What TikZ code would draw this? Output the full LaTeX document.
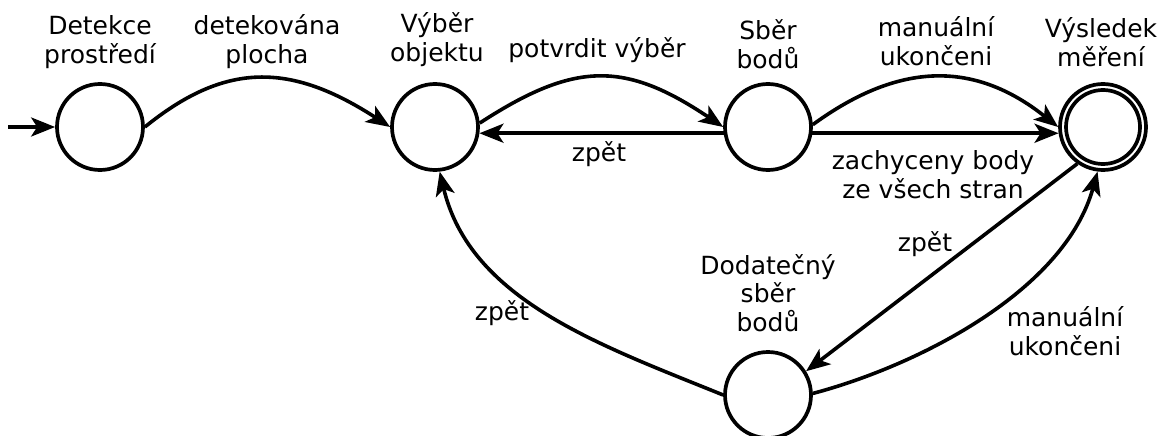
\documentclass[tikz,border=0pt]{standalone}
\usepackage{fontspec}
\setmainfont{DejaVu Sans}
\usetikzlibrary{arrows.meta}
\begin{document}
\begin{tikzpicture}[x=1pt,y=-1pt,
  state/.style={circle,draw,line width=3.7pt,minimum size=86pt,inner sep=0pt,outer sep=1.85pt},
  lbl/.style={font=\fontsize{25}{28.5}\selectfont,align=center,anchor=base,inner sep=0pt},
  arr/.style={line width=3.6pt,-{Stealth[length=24pt,width=19pt,inset=6pt]}}]
\fill[white] (0,0) rectangle (1161,436);
\useasboundingbox (0,0) rectangle (1161,436);
% states
\node[state] (d) at (100,127) {};
\node[state] (v) at (435,127) {};
\node[state] (s) at (768,127) {};
\node[state] (r) at (1103,127) {};
\draw[line width=3.7pt] (r) circle[radius=37pt];
\node[state] (dd) at (768,395) {};
% state names (anchor = baseline of last line)
\node[lbl] (ld) at (100,63.5) {Detekce\\prostředí};
\node[lbl] (lv) at (437,61.5) {Výběr\\objektu};
\node[lbl] (ls) at (768,68) {Sběr\\bodů};
\node[lbl] (lr) at (1101,66.5) {Výsledek\\měření};
\node[lbl] (ldd) at (768,331) {Dodatečný\\sběr\\bodů};
% initial arrow
\coordinate (i0) at (8,127);
\draw[arr] (i0) -- (d.west);
% transitions
\draw[arr] (d.east) .. controls (225,62) and (290,62) .. (v.west);
\node[lbl] (e1) at (267,63.5) {detekována\\plocha};
\draw[arr] (v.5) .. controls (575,61) and (625,61) .. (s.west);
\node[lbl] (e2) at (597,57) {potvrdit výběr};
\draw[arr] (s.188) -- (v.352);
\node[lbl] (e3) at (599,161) {zpět};
\draw[arr] (s.3) .. controls (900,61) and (975,61) .. (r.west);
\node[lbl] (e4) at (936,65.5) {manuální\\ukončeni};
\draw[arr] (s.352) -- (r.188);
\node[lbl] (e5) at (933,198) {zachyceny body\\ze všech stran};
\draw[arr] (r.235) -- (dd.32);
\node[lbl] (e6) at (925,251) {zpět};
\draw[arr] (dd.2) .. controls (920,365) and (1065,290) .. (r.263);
\node[lbl] (e7) at (1065,355) {manuální\\ukončeni};
\draw[arr] (dd.west) .. controls (600,345) and (470,300) .. (v.276);
\node[lbl] (e8) at (502,320) {zpět};
\end{tikzpicture}
\end{document}
